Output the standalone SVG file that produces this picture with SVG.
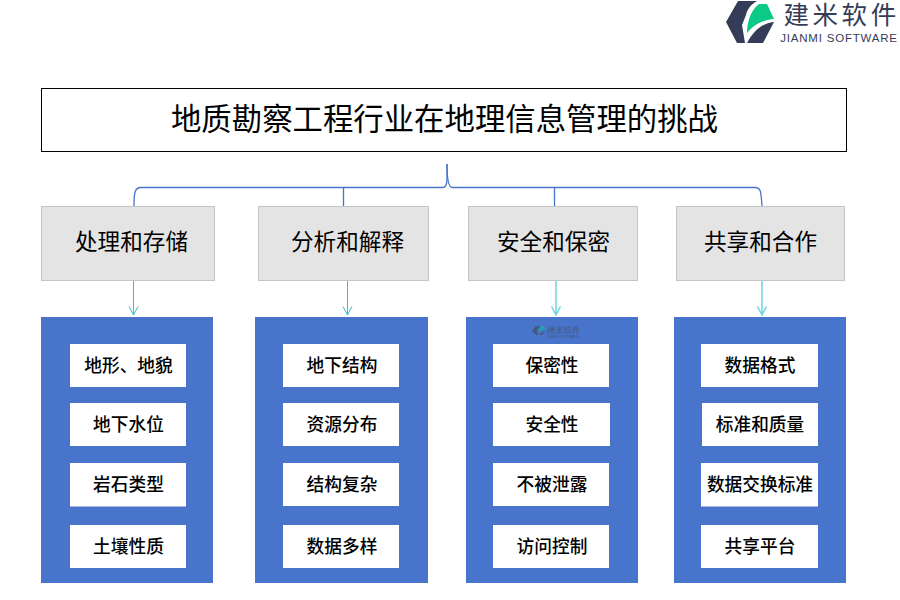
<svg xmlns="http://www.w3.org/2000/svg" width="900" height="600" viewBox="0 0 900 600">
<style>
text{font-family:"Noto Sans CJK SC",sans-serif;text-anchor:middle;fill:#000}
.head{fill:#e4e4e4;stroke:#c4c4c4;stroke-width:1}
.panel{fill:#4874cb}
.item{fill:#fff}
.h{font-size:22.6px}
.t{font-size:17.7px;font-weight:500}
.brace{fill:none;stroke:#4874cb;stroke-width:1.3}
.arrow{fill:none;stroke:#36bfd0;stroke-width:1}
.arrow2{fill:none;stroke:#6fd6de;stroke-width:1.5}
.logo-dark{fill:#343c58}
</style>
<rect width="900" height="600" fill="#fff"/>
<g id="logo">
<path class="logo-dark" d="M738 1H757C750 5 747 10 746 15L742 25L745 43H737L726 22Z"/>
<path d="M747 33C747 20 752 9 759 4H767L774 19C762 20 753 25 747 33Z" fill="#0bc987"/>
<path class="logo-dark" d="M747 43H763L774 22C763 23 754 30 747 43Z"/>
<text x="841.600" y="24" style="font-size:25.500px;letter-spacing:3.600px;fill:#343c58">建米软件</text>
<text x="839" y="42" style="font-family:'Liberation Sans',sans-serif;font-size:11.5px;letter-spacing:.8px;fill:#343c58">JIANMI SOFTWARE</text>
</g>
<g id="title">
<rect x="41.500" y="88.500" width="805" height="63" fill="#fff" stroke="#000" stroke-width="1"/>
<text x="444.500" y="129.500" style="font-size:30.400px">地质勘察工程行业在地理信息管理的挑战</text>
</g>
<g id="connectors">
<path class="brace" d="M447 164C447 178 448 187 443 187.500H141C135 187.500 134 192 134 206"/>
<path class="brace" d="M447 164C447 178 448 187 452 187.500H755C761 187.500 761 192 762 206"/>
<path class="brace" d="M343.500 187.500V206M554.500 187.500V206"/>
<g class="arrow"><path d="M133.500 280V315M129 306.500L133.500 315L138 306.500"/><path d="M347.500 280V315M343 306.500L347.500 315L352 306.500"/></g>
<g class="arrow2"><path d="M556 280V315M551.500 306.500L556 315L560.500 306.500"/><path d="M762 280V315M757.500 306.500L762 315L766.500 306.500"/></g>
</g>
<g id="col1">
<rect class="head" x="41.500" y="206.500" width="173" height="74"/>
<text class="h" x="131.500" y="250">处理和存储</text>
<rect class="panel" x="41" y="317" width="172" height="266"/>
<rect class="item" x="70" y="344" width="116" height="43"/><text class="t" x="128.500" y="372">地形、地貌</text>
<rect class="item" x="70" y="403" width="116" height="43"/><text class="t" x="128.500" y="431">地下水位</text>
<rect class="item" x="70" y="463" width="116" height="43.500"/><text class="t" x="128.500" y="491">岩石类型</text>
<rect class="item" x="70" y="525" width="116" height="43"/><text class="t" x="128.500" y="552.500">土壤性质</text>
</g>
<g id="col2">
<rect class="head" x="258.500" y="206.500" width="170" height="74"/>
<text class="h" x="347.500" y="250">分析和解释</text>
<rect class="panel" x="255" y="317" width="173" height="266"/>
<rect class="item" x="283" y="344" width="116" height="43"/><text class="t" x="342" y="372">地下结构</text>
<rect class="item" x="283" y="403" width="116" height="43"/><text class="t" x="342" y="431">资源分布</text>
<rect class="item" x="283" y="463" width="116" height="43"/><text class="t" x="342" y="491">结构复杂</text>
<rect class="item" x="283" y="525" width="116" height="43"/><text class="t" x="342" y="552.500">数据多样</text>
</g>
<g id="col3">
<rect class="head" x="468.500" y="206.500" width="169" height="74"/>
<text class="h" x="553.500" y="250">安全和保密</text>
<rect class="panel" x="466" y="317" width="172" height="266"/>
<g id="watermark">
<path d="M535.500 326H540L537 331L538.500 335H536L532 331Z" fill="#46597f"/>
<path d="M538 331C539 328 540.500 326.500 542 326H544L545 330C542 330 540 330.500 538 331Z" fill="#1fa3b0"/>
<path d="M539 335H542L545 331C542.500 331.500 540.500 333 539 335Z" fill="#46597f"/>
<text x="563.500" y="333" style="font-size:8.300px;fill:#46597f">建米软件</text>
<text x="563.500" y="338" style="font-family:'Liberation Sans',sans-serif;font-size:3.500px;fill:#46597f">JIANMI SOFTWARE</text>
</g>
<rect class="item" x="493" y="344" width="116" height="43"/><text class="t" x="552" y="372">保密性</text>
<rect class="item" x="493" y="403" width="117" height="43"/><text class="t" x="552" y="431">安全性</text>
<rect class="item" x="493" y="463" width="116" height="43"/><text class="t" x="552" y="491">不被泄露</text>
<rect class="item" x="493" y="525" width="116" height="43"/><text class="t" x="552" y="552.500">访问控制</text>
</g>
<g id="col4">
<rect class="head" x="676.500" y="206.500" width="168" height="74"/>
<text class="h" x="760.500" y="250">共享和合作</text>
<rect class="panel" x="674" y="317" width="172" height="266"/>
<rect class="item" x="701" y="344" width="117" height="43"/><text class="t" x="760" y="372">数据格式</text>
<rect class="item" x="702" y="403" width="116" height="43"/><text class="t" x="760" y="431">标准和质量</text>
<rect class="item" x="701" y="463" width="117" height="43.500"/><text class="t" x="760" y="491">数据交换标准</text>
<rect class="item" x="701" y="525" width="117" height="43"/><text class="t" x="760" y="552.500">共享平台</text>
</g>
</svg>
